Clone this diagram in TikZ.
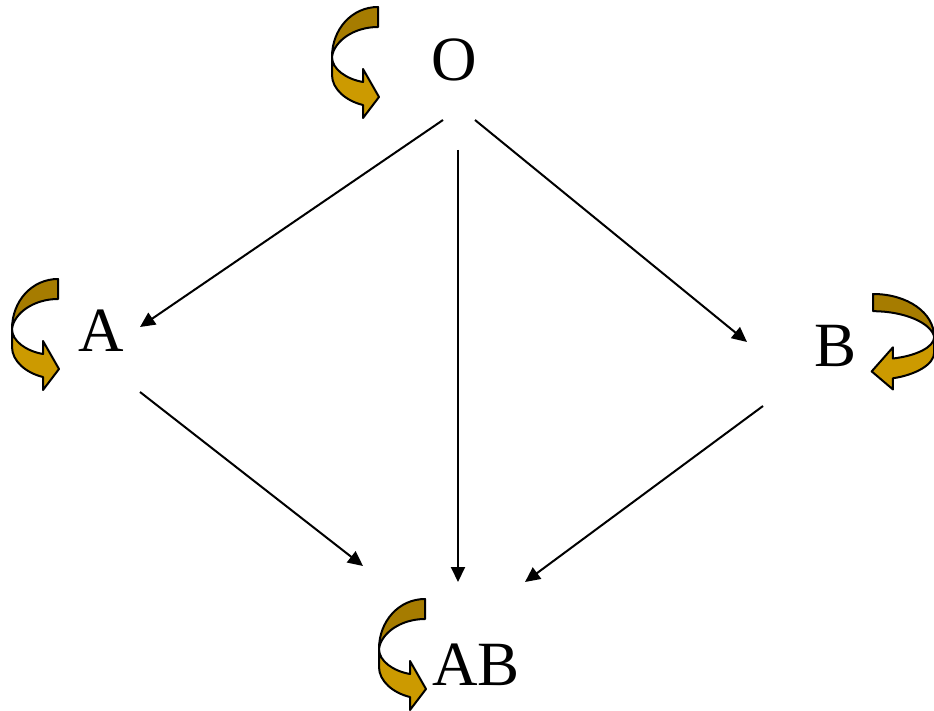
\documentclass[tikz,border=0pt]{standalone}
\usepackage{fontspec}
\setmainfont{Liberation Serif}
\usetikzlibrary{arrows.meta}
\definecolor{darkgold}{HTML}{A67C00}
\definecolor{lightgold}{HTML}{CC9A00}
\tikzset{
  lbl/.style={font=\fontsize{63}{70}\selectfont, inner sep=0pt},
  conn/.style={line width=2pt, -{Triangle[length=15pt,width=14pt]}},
  bandedge/.style={draw=black, line width=2pt, line join=round},
  curl/.pic={
    \path[bandedge, fill=darkgold] (0,0) .. controls (-26,0) and (-46,22) .. (-46,50)
      .. controls (-44,34) and (-24,20) .. (0,20) -- cycle;
    \path[bandedge, fill=lightgold] (-46,50) -- (-46,68)
      .. controls (-46,82) and (-32,94) .. (-15,98)
      -- (-15,111) -- (1,90) -- (-15,62) -- (-15,75)
      .. controls (-32,72) and (-46,62) .. (-46,50) -- cycle;
  }
}
\begin{document}
\begin{tikzpicture}[x=1pt,y=-1pt]
\useasboundingbox (0,0) rectangle (934,711);
\node[lbl] (O) at (454,60) {O};
\node[lbl] (A) at (101,331) {A};
\node[lbl] (B) at (835,346) {B};
\node[lbl] (AB) at (476,665) {AB};
% connector end points
\coordinate (oa1) at (443,120); \coordinate (oa2) at (140,327);
\coordinate (oab1) at (458,150); \coordinate (oab2) at (458,582);
\coordinate (ob1) at (475,120); \coordinate (ob2) at (747,342);
\coordinate (aab1) at (140,392); \coordinate (aab2) at (363,566);
\coordinate (bab1) at (763,406); \coordinate (bab2) at (525,582);
\draw[conn] (oa1) -- (oa2);
\draw[conn] (oab1) -- (oab2);
\draw[conn] (ob1) -- (ob2);
\draw[conn] (aab1) -- (aab2);
\draw[conn] (bab1) -- (bab2);
% curved self arrows
\pic at (378,7) {curl};
\pic at (58,279) {curl};
\pic at (425,599) {curl};
\pic[xscale=-1.33,yscale=0.86] at (873,294) {curl};
\end{tikzpicture}
\end{document}
